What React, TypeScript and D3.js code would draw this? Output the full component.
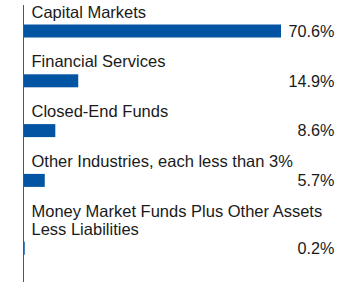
import React from "react";
import * as d3 from "d3";

const categories: string[][] = [
  ["Capital Markets"],
  ["Financial Services"],
  ["Closed-End Funds"],
  ["Other Industries, each less than 3%"],
  ["Money Market Funds Plus Other Assets", "Less Liabilities"],
];
const values: number[] = [70.6, 14.9, 8.6, 5.7, 0.2];
const valueLabels: string[] = ["70.6%", "14.9%", "8.6%", "5.7%", "0.2%"];

const W = 360;
const H = 286;
const axisX = 23.5;
const barLeft = 24;
const barRight = 281;
const valueRight = 334.5;
const labelX = 31.5;
const rowStep = 49.8;
const lineStep = 18;
const firstCenter = 31;
const barH = 13;
const FONT = "'Liberation Sans', Arial, sans-serif";
const BLUE = "#0454a4";

export default function App() {
  const x = d3
    .scaleLinear()
    .domain([0, d3.max(values) as number])
    .range([barLeft, barRight]);

  // vertical centre of each bar: fixed step per row, plus room for extra label lines
  const centers: number[] = [];
  let c = firstCenter;
  categories.forEach((lines, i) => {
    if (i > 0) c += rowStep + (lines.length - 1) * lineStep;
    centers.push(c);
  });

  return (
    <svg
      width={W}
      height={H}
      style={{ position: "absolute", left: 0, top: 0 }}
      fontFamily={FONT}
    >
      <rect width={W} height={H} fill="#fff" />
      {categories.map((lines, i) => {
        const cy = centers[i];
        const firstBaseline = cy - 13.5 - (lines.length - 1) * lineStep;
        return (
          <g key={i}>
            <rect
              x={x(0)}
              y={cy - barH / 2}
              width={Math.max(0, x(values[i]) - x(0))}
              height={barH}
              fill={BLUE}
            />
            <text x={labelX} y={firstBaseline} fontSize={16.5} fill="#1a1a1a">
              {lines.map((ln, j) => (
                <tspan key={j} x={labelX} y={firstBaseline + j * lineStep}>
                  {ln}
                </tspan>
              ))}
            </text>
            <text
              x={valueRight}
              y={cy}
              dy="0.36em"
              fontSize={16.2}
              textAnchor="end"
              fill="#1a1a1a"
            >
              {valueLabels[i]}
            </text>
          </g>
        );
      })}
      <line x1={axisX} x2={axisX} y1={5} y2={282} stroke="#555" strokeWidth={1} />
    </svg>
  );
}
